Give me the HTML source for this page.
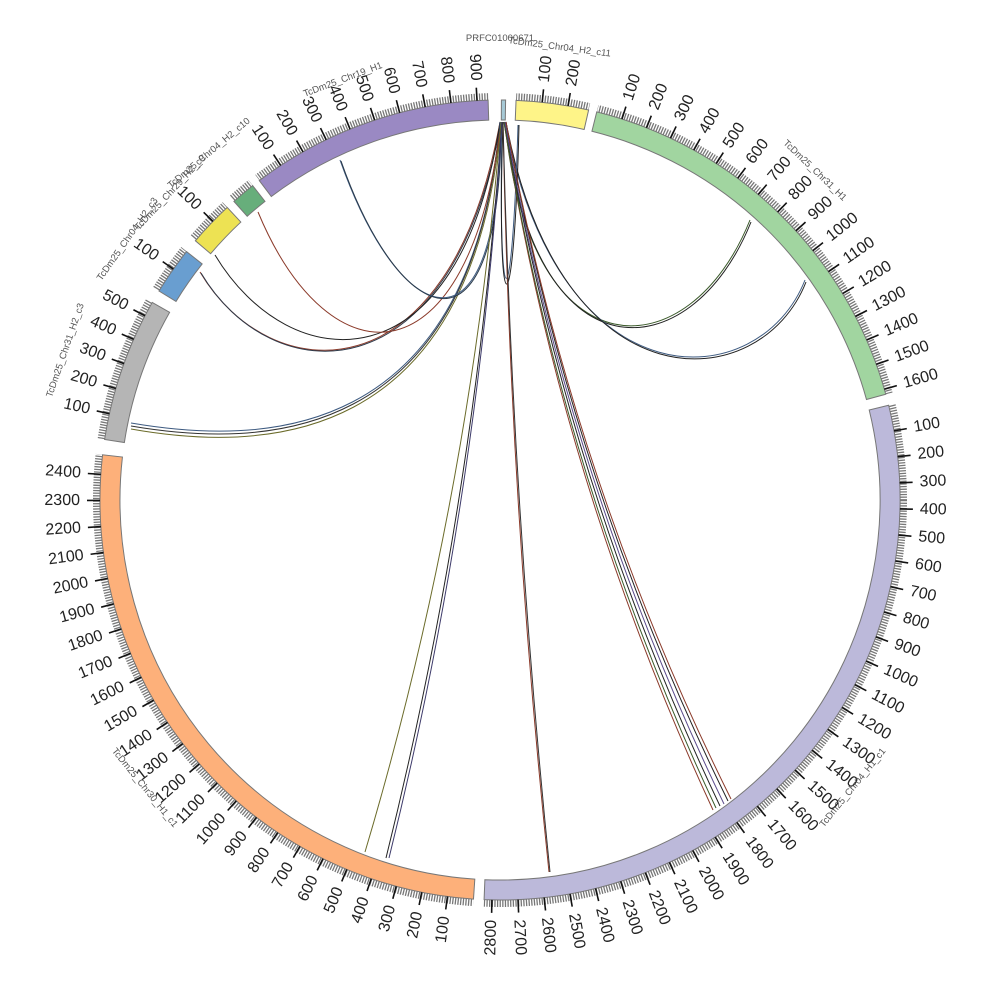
<!DOCTYPE html>
<html><head><meta charset="utf-8"><style>
html,body{margin:0;padding:0;background:#fff}
svg{display:block}
.t text{font-family:"Liberation Sans","DejaVu Sans",sans-serif;font-size:16px;fill:#222;dominant-baseline:central}
.t path{stroke:#111;stroke-width:1.6}
.a{text-anchor:start}.b{text-anchor:end}
.seg{stroke:#777;stroke-width:1}
.nm{font-family:"Liberation Sans","DejaVu Sans",sans-serif;font-size:9.5px;fill:#555;text-anchor:middle}
.lk path{fill:none;stroke-width:1}
</style></head><body>
<svg width="1000" height="1000" viewBox="0 0 1000 1000" xmlns="http://www.w3.org/2000/svg">
<rect width="1000" height="1000" fill="#fff"/>
<circle cx="500" cy="500" r="403.5" fill="none" stroke="#777" stroke-width="7" stroke-dasharray="1.3 1.337"/>
<circle cx="500" cy="500" r="403.5" fill="none" stroke="#fff" stroke-width="9" transform="rotate(-90 500 500)" stroke-dasharray="16.20 73.95 8.45 427.26 11.48 746.35 10.70 652.76 15.56 147.19 13.38 48.59 14.08 46.48 9.16 24.65 8.45 248.60 11.97"/>

<path class="seg" fill="#a6c9d6" d="M501.4,100 L505.6,100 L505.3,120 L501.3,120 Z"/>
<path class="seg" fill="#fef488" d="M516.05,100.32 A400,400 0 0,1 588.62,109.96 L584.17,129.46 A380,380 0 0,0 515.25,120.31 Z"/>
<path class="seg" fill="#a1d5a0" d="M596.76,111.88 A400,400 0 0,1 885.76,394.24 L866.47,399.53 A380,380 0 0,0 591.92,131.29 Z"/>
<path class="seg" fill="#bcb9da" d="M888.64,405.28 A400,400 0 0,1 484.08,899.68 L484.88,879.70 A380,380 0 0,0 869.21,410.02 Z"/>
<path class="seg" fill="#fdb07a" d="M473.49,899.12 A400,400 0 0,1 102.56,454.80 L122.43,457.06 A380,380 0 0,0 474.81,879.16 Z"/>
<path class="seg" fill="#b5b5b5" d="M104.6,439.48 A400,400 0 0,1 152.2,302.44 L169.59,312.32 A380,380 0 0,0 124.37,442.51 Z"/>
<path class="seg" fill="#699ed0" d="M158.96,291.0 A400,400 0 0,1 186.52,251.56 L202.19,263.98 A380,380 0 0,0 176.01,301.45 Z"/>
<path class="seg" fill="#ede253" d="M195.4,240.76 A400,400 0 0,1 227.2,207.44 L240.84,222.07 A380,380 0 0,0 210.63,253.72 Z"/>
<path class="seg" fill="#67ae7b" d="M233.92,201.36 A400,400 0 0,1 252.64,185.64 L265.01,201.36 A380,380 0 0,0 247.22,216.29 Z"/>
<path class="seg" fill="#9a89c3" d="M259.28,180.56 A400,400 0 0,1 488.12,100.16 L488.71,120.15 A380,380 0 0,0 271.32,196.53 Z"/>

<g class="t">
<g transform="rotate(6.05 500 500)"><path d="M500,100V87"/><text class="a" x="500" y="80" transform="rotate(-90 500 80)">100</text></g>
<g transform="rotate(9.79 500 500)"><path d="M500,100V87"/><text class="a" x="500" y="80" transform="rotate(-90 500 80)">200</text></g>

<g transform="rotate(17.75 500 500)"><path d="M500,100V87"/><text class="a" x="500" y="80" transform="rotate(-90 500 80)">100</text></g>
<g transform="rotate(21.49 500 500)"><path d="M500,100V87"/><text class="a" x="500" y="80" transform="rotate(-90 500 80)">200</text></g>
<g transform="rotate(25.24 500 500)"><path d="M500,100V87"/><text class="a" x="500" y="80" transform="rotate(-90 500 80)">300</text></g>
<g transform="rotate(28.98 500 500)"><path d="M500,100V87"/><text class="a" x="500" y="80" transform="rotate(-90 500 80)">400</text></g>
<g transform="rotate(32.73 500 500)"><path d="M500,100V87"/><text class="a" x="500" y="80" transform="rotate(-90 500 80)">500</text></g>
<g transform="rotate(36.47 500 500)"><path d="M500,100V87"/><text class="a" x="500" y="80" transform="rotate(-90 500 80)">600</text></g>
<g transform="rotate(40.22 500 500)"><path d="M500,100V87"/><text class="a" x="500" y="80" transform="rotate(-90 500 80)">700</text></g>
<g transform="rotate(43.96 500 500)"><path d="M500,100V87"/><text class="a" x="500" y="80" transform="rotate(-90 500 80)">800</text></g>
<g transform="rotate(47.71 500 500)"><path d="M500,100V87"/><text class="a" x="500" y="80" transform="rotate(-90 500 80)">900</text></g>
<g transform="rotate(51.45 500 500)"><path d="M500,100V87"/><text class="a" x="500" y="80" transform="rotate(-90 500 80)">1000</text></g>
<g transform="rotate(55.20 500 500)"><path d="M500,100V87"/><text class="a" x="500" y="80" transform="rotate(-90 500 80)">1100</text></g>
<g transform="rotate(58.94 500 500)"><path d="M500,100V87"/><text class="a" x="500" y="80" transform="rotate(-90 500 80)">1200</text></g>
<g transform="rotate(62.69 500 500)"><path d="M500,100V87"/><text class="a" x="500" y="80" transform="rotate(-90 500 80)">1300</text></g>
<g transform="rotate(66.43 500 500)"><path d="M500,100V87"/><text class="a" x="500" y="80" transform="rotate(-90 500 80)">1400</text></g>
<g transform="rotate(70.18 500 500)"><path d="M500,100V87"/><text class="a" x="500" y="80" transform="rotate(-90 500 80)">1500</text></g>
<g transform="rotate(73.92 500 500)"><path d="M500,100V87"/><text class="a" x="500" y="80" transform="rotate(-90 500 80)">1600</text></g>

<g transform="rotate(80.05 500 500)"><path d="M500,100V87"/><text class="a" x="500" y="80" transform="rotate(-90 500 80)">100</text></g>
<g transform="rotate(83.79 500 500)"><path d="M500,100V87"/><text class="a" x="500" y="80" transform="rotate(-90 500 80)">200</text></g>
<g transform="rotate(87.54 500 500)"><path d="M500,100V87"/><text class="a" x="500" y="80" transform="rotate(-90 500 80)">300</text></g>
<g transform="rotate(91.28 500 500)"><path d="M500,100V87"/><text class="a" x="500" y="80" transform="rotate(-90 500 80)">400</text></g>
<g transform="rotate(95.03 500 500)"><path d="M500,100V87"/><text class="a" x="500" y="80" transform="rotate(-90 500 80)">500</text></g>
<g transform="rotate(98.77 500 500)"><path d="M500,100V87"/><text class="a" x="500" y="80" transform="rotate(-90 500 80)">600</text></g>
<g transform="rotate(102.52 500 500)"><path d="M500,100V87"/><text class="a" x="500" y="80" transform="rotate(-90 500 80)">700</text></g>
<g transform="rotate(106.26 500 500)"><path d="M500,100V87"/><text class="a" x="500" y="80" transform="rotate(-90 500 80)">800</text></g>
<g transform="rotate(110.01 500 500)"><path d="M500,100V87"/><text class="a" x="500" y="80" transform="rotate(-90 500 80)">900</text></g>
<g transform="rotate(113.75 500 500)"><path d="M500,100V87"/><text class="a" x="500" y="80" transform="rotate(-90 500 80)">1000</text></g>
<g transform="rotate(117.5 500 500)"><path d="M500,100V87"/><text class="a" x="500" y="80" transform="rotate(-90 500 80)">1100</text></g>
<g transform="rotate(121.24 500 500)"><path d="M500,100V87"/><text class="a" x="500" y="80" transform="rotate(-90 500 80)">1200</text></g>
<g transform="rotate(124.99 500 500)"><path d="M500,100V87"/><text class="a" x="500" y="80" transform="rotate(-90 500 80)">1300</text></g>
<g transform="rotate(128.73 500 500)"><path d="M500,100V87"/><text class="a" x="500" y="80" transform="rotate(-90 500 80)">1400</text></g>
<g transform="rotate(132.48 500 500)"><path d="M500,100V87"/><text class="a" x="500" y="80" transform="rotate(-90 500 80)">1500</text></g>
<g transform="rotate(136.22 500 500)"><path d="M500,100V87"/><text class="a" x="500" y="80" transform="rotate(-90 500 80)">1600</text></g>
<g transform="rotate(139.97 500 500)"><path d="M500,100V87"/><text class="a" x="500" y="80" transform="rotate(-90 500 80)">1700</text></g>
<g transform="rotate(143.71 500 500)"><path d="M500,100V87"/><text class="a" x="500" y="80" transform="rotate(-90 500 80)">1800</text></g>
<g transform="rotate(147.46 500 500)"><path d="M500,100V87"/><text class="a" x="500" y="80" transform="rotate(-90 500 80)">1900</text></g>
<g transform="rotate(151.2 500 500)"><path d="M500,100V87"/><text class="a" x="500" y="80" transform="rotate(-90 500 80)">2000</text></g>
<g transform="rotate(154.95 500 500)"><path d="M500,100V87"/><text class="a" x="500" y="80" transform="rotate(-90 500 80)">2100</text></g>
<g transform="rotate(158.69 500 500)"><path d="M500,100V87"/><text class="a" x="500" y="80" transform="rotate(-90 500 80)">2200</text></g>
<g transform="rotate(162.44 500 500)"><path d="M500,100V87"/><text class="a" x="500" y="80" transform="rotate(-90 500 80)">2300</text></g>
<g transform="rotate(166.18 500 500)"><path d="M500,100V87"/><text class="a" x="500" y="80" transform="rotate(-90 500 80)">2400</text></g>
<g transform="rotate(169.93 500 500)"><path d="M500,100V87"/><text class="a" x="500" y="80" transform="rotate(-90 500 80)">2500</text></g>
<g transform="rotate(173.67 500 500)"><path d="M500,100V87"/><text class="a" x="500" y="80" transform="rotate(-90 500 80)">2600</text></g>
<g transform="rotate(177.42 500 500)"><path d="M500,100V87"/><text class="a" x="500" y="80" transform="rotate(-90 500 80)">2700</text></g>
<g transform="rotate(181.16 500 500)"><path d="M500,100V87"/><text class="b" x="500" y="80" transform="rotate(90 500 80)">2800</text></g>

<g transform="rotate(187.55 500 500)"><path d="M500,100V87"/><text class="b" x="500" y="80" transform="rotate(90 500 80)">100</text></g>
<g transform="rotate(191.29 500 500)"><path d="M500,100V87"/><text class="b" x="500" y="80" transform="rotate(90 500 80)">200</text></g>
<g transform="rotate(195.04 500 500)"><path d="M500,100V87"/><text class="b" x="500" y="80" transform="rotate(90 500 80)">300</text></g>
<g transform="rotate(198.78 500 500)"><path d="M500,100V87"/><text class="b" x="500" y="80" transform="rotate(90 500 80)">400</text></g>
<g transform="rotate(202.53 500 500)"><path d="M500,100V87"/><text class="b" x="500" y="80" transform="rotate(90 500 80)">500</text></g>
<g transform="rotate(206.27 500 500)"><path d="M500,100V87"/><text class="b" x="500" y="80" transform="rotate(90 500 80)">600</text></g>
<g transform="rotate(210.02 500 500)"><path d="M500,100V87"/><text class="b" x="500" y="80" transform="rotate(90 500 80)">700</text></g>
<g transform="rotate(213.76 500 500)"><path d="M500,100V87"/><text class="b" x="500" y="80" transform="rotate(90 500 80)">800</text></g>
<g transform="rotate(217.51 500 500)"><path d="M500,100V87"/><text class="b" x="500" y="80" transform="rotate(90 500 80)">900</text></g>
<g transform="rotate(221.25 500 500)"><path d="M500,100V87"/><text class="b" x="500" y="80" transform="rotate(90 500 80)">1000</text></g>
<g transform="rotate(225 500 500)"><path d="M500,100V87"/><text class="b" x="500" y="80" transform="rotate(90 500 80)">1100</text></g>
<g transform="rotate(228.74 500 500)"><path d="M500,100V87"/><text class="b" x="500" y="80" transform="rotate(90 500 80)">1200</text></g>
<g transform="rotate(232.49 500 500)"><path d="M500,100V87"/><text class="b" x="500" y="80" transform="rotate(90 500 80)">1300</text></g>
<g transform="rotate(236.23 500 500)"><path d="M500,100V87"/><text class="b" x="500" y="80" transform="rotate(90 500 80)">1400</text></g>
<g transform="rotate(239.98 500 500)"><path d="M500,100V87"/><text class="b" x="500" y="80" transform="rotate(90 500 80)">1500</text></g>
<g transform="rotate(243.72 500 500)"><path d="M500,100V87"/><text class="b" x="500" y="80" transform="rotate(90 500 80)">1600</text></g>
<g transform="rotate(247.47 500 500)"><path d="M500,100V87"/><text class="b" x="500" y="80" transform="rotate(90 500 80)">1700</text></g>
<g transform="rotate(251.21 500 500)"><path d="M500,100V87"/><text class="b" x="500" y="80" transform="rotate(90 500 80)">1800</text></g>
<g transform="rotate(254.96 500 500)"><path d="M500,100V87"/><text class="b" x="500" y="80" transform="rotate(90 500 80)">1900</text></g>
<g transform="rotate(258.7 500 500)"><path d="M500,100V87"/><text class="b" x="500" y="80" transform="rotate(90 500 80)">2000</text></g>
<g transform="rotate(262.45 500 500)"><path d="M500,100V87"/><text class="b" x="500" y="80" transform="rotate(90 500 80)">2100</text></g>
<g transform="rotate(266.19 500 500)"><path d="M500,100V87"/><text class="b" x="500" y="80" transform="rotate(90 500 80)">2200</text></g>
<g transform="rotate(269.94 500 500)"><path d="M500,100V87"/><text class="b" x="500" y="80" transform="rotate(90 500 80)">2300</text></g>
<g transform="rotate(273.68 500 500)"><path d="M500,100V87"/><text class="b" x="500" y="80" transform="rotate(90 500 80)">2400</text></g>

<g transform="rotate(282.45 500 500)"><path d="M500,100V87"/><text class="b" x="500" y="80" transform="rotate(90 500 80)">100</text></g>
<g transform="rotate(286.19 500 500)"><path d="M500,100V87"/><text class="b" x="500" y="80" transform="rotate(90 500 80)">200</text></g>
<g transform="rotate(289.94 500 500)"><path d="M500,100V87"/><text class="b" x="500" y="80" transform="rotate(90 500 80)">300</text></g>
<g transform="rotate(293.68 500 500)"><path d="M500,100V87"/><text class="b" x="500" y="80" transform="rotate(90 500 80)">400</text></g>
<g transform="rotate(297.43 500 500)"><path d="M500,100V87"/><text class="b" x="500" y="80" transform="rotate(90 500 80)">500</text></g>

<g transform="rotate(305.25 500 500)"><path d="M500,100V87"/><text class="b" x="500" y="80" transform="rotate(90 500 80)">100</text></g>
<g transform="rotate(314.15 500 500)"><path d="M500,100V87"/><text class="b" x="500" y="80" transform="rotate(90 500 80)">100</text></g>

<g transform="rotate(326.75 500 500)"><path d="M500,100V87"/><text class="b" x="500" y="80" transform="rotate(90 500 80)">100</text></g>
<g transform="rotate(330.49 500 500)"><path d="M500,100V87"/><text class="b" x="500" y="80" transform="rotate(90 500 80)">200</text></g>
<g transform="rotate(334.24 500 500)"><path d="M500,100V87"/><text class="b" x="500" y="80" transform="rotate(90 500 80)">300</text></g>
<g transform="rotate(337.98 500 500)"><path d="M500,100V87"/><text class="b" x="500" y="80" transform="rotate(90 500 80)">400</text></g>
<g transform="rotate(341.73 500 500)"><path d="M500,100V87"/><text class="b" x="500" y="80" transform="rotate(90 500 80)">500</text></g>
<g transform="rotate(345.47 500 500)"><path d="M500,100V87"/><text class="b" x="500" y="80" transform="rotate(90 500 80)">600</text></g>
<g transform="rotate(349.22 500 500)"><path d="M500,100V87"/><text class="b" x="500" y="80" transform="rotate(90 500 80)">700</text></g>
<g transform="rotate(352.96 500 500)"><path d="M500,100V87"/><text class="b" x="500" y="80" transform="rotate(90 500 80)">800</text></g>
<g transform="rotate(356.71 500 500)"><path d="M500,100V87"/><text class="b" x="500" y="80" transform="rotate(90 500 80)">900</text></g>
</g>

<text class="nm" x="500" y="41">PRFC01000671</text>
<g transform="rotate(7.5 500 500)"><text class="nm" x="500" y="46">TcDm25_Chr04_H2_c11</text></g>
<g transform="rotate(43.7 500 500)"><text class="nm" x="500" y="47">TcDm25_Chr31_H1</text></g>
<g transform="rotate(129.2 500 500)"><text class="nm" x="500" y="42" transform="rotate(180 500 42)">TcDm25_Chr04_H1_c1</text></g>
<g transform="rotate(231 500 500)"><text class="nm" x="500" y="40" transform="rotate(180 500 40)">TcDm25_Chr30_H1_c1</text></g>
<g transform="rotate(289 500 500)"><text class="nm" x="500" y="43">TcDm25_Chr31_H2_c3</text></g>
<g transform="rotate(305 500 500)"><text class="nm" x="500" y="48">TcDm25_Chr04_H2_c3</text></g>
<g transform="rotate(313 500 500)"><text class="nm" x="500" y="52">TcDm25_Chr29_H2_c9</text></g>
<g transform="rotate(320 500 500)"><text class="nm" x="500" y="50">TcDm25_Chr04_H2_c10</text></g>
<g transform="rotate(339.5 500 500)"><text class="nm" x="500" y="54">TcDm25_Chr19_H1</text></g>

<g class="lk">
<path stroke="#3d5a80" d="M131,423 C260,445 470,445 500,122"/>
<path stroke="#6b6b2a" d="M131,429 C260,452 472,450 501,122"/>
<path stroke="#333" d="M131,426 C260,448 471,447 500,122"/>
<path stroke="#8b3a2a" d="M200,272 C270,390 450,400 500,122"/>
<path stroke="#2d3a4a" d="M201,273 C271,391 451,401 501,122"/>
<path stroke="#222" d="M215,255 C290,380 460,390 500,122"/>
<path stroke="#8b3a2a" d="M258,212 C330,385 470,385 501,122"/>
<path stroke="#3d5a80" d="M340,160 C400,330 500,370 500,122"/>
<path stroke="#2a3a4a" d="M341,161 C401,331 501,371 501,122"/>
<path stroke="#3a5a2a" d="M750,220 C690,370 530,380 505,122"/>
<path stroke="#222" d="M751,222 C691,372 531,382 506,122"/>
<path stroke="#3d5a80" d="M805,280 C760,395 560,410 505,122"/>
<path stroke="#222" d="M806,282 C761,397 561,412 506,122"/>
<path stroke="#3d5a80" d="M518,125 C512,330 498,330 502,122"/>
<path stroke="#222" d="M519,125 C514,340 496,335 503,122"/>
<path stroke="#6b6b2a" d="M501,122 Q470,500 365,852"/>
<path stroke="#222" d="M502,122 Q475,500 386,858"/>
<path stroke="#3d3a6a" d="M502,122 Q478,500 389,858"/>
<path stroke="#8b3a2a" d="M503,122 Q510,500 549,872"/>
<path stroke="#333" d="M503,122 Q512,500 550,872"/>
<path stroke="#8b3a2a" d="M504,122 Q560,480 713,810"/>
<path stroke="#3a5a2a" d="M504,122 Q562,480 716,808"/>
<path stroke="#222" d="M505,122 Q565,480 720,806"/>
<path stroke="#5a4a8a" d="M505,122 Q568,480 724,804"/>
<path stroke="#222" d="M506,122 Q570,480 728,801"/>
<path stroke="#8b3a2a" d="M506,122 Q572,480 731,799"/>
</g>
</svg>
</body></html>
